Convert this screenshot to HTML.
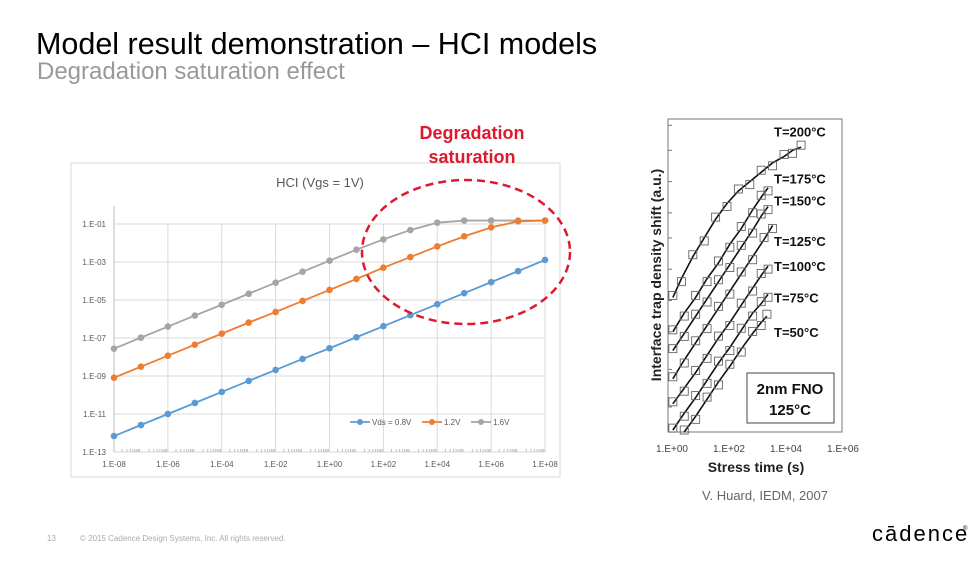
<!DOCTYPE html>
<html><head><meta charset="utf-8">
<style>
body{margin:0;width:977px;height:559px;background:#fff;overflow:hidden;font-family:"Liberation Sans",sans-serif;}
svg text{font-family:"Liberation Sans",sans-serif;}
</style></head>
<body>
<svg id="s" width="977" height="559" viewBox="0 0 977 559" xmlns="http://www.w3.org/2000/svg">
<text x="36" y="54" font-size="30.5" fill="#000">Model result demonstration – HCI models</text>
<text x="37" y="79" font-size="24" fill="#999">Degradation saturation effect</text>
<rect x="71" y="163" width="489" height="314" fill="#fff" stroke="#d9d9d9"/>
<text x="320" y="187" font-size="13" fill="#595959" text-anchor="middle">HCI (Vgs = 1V)</text>
<g id="L"></g>
<g id="R"></g>
<text x="472" y="139" font-size="18" font-weight="bold" fill="#e0182d" text-anchor="middle">Degradation</text>
<text x="472" y="163" font-size="18" font-weight="bold" fill="#e0182d" text-anchor="middle">saturation</text>
<ellipse cx="466" cy="252" rx="104" ry="72" fill="none" stroke="#e0182d" stroke-width="2.5" stroke-dasharray="8,5"/>
<text x="765" y="500" font-size="13" fill="#666" text-anchor="middle">V. Huard, IEDM, 2007</text>
<text x="47" y="541" font-size="8" fill="#aaa">13</text>
<text x="80" y="541" font-size="8" fill="#aaa">© 2015 Cadence Design Systems, Inc. All rights reserved.</text>
<text x="872" y="541" font-size="22" fill="#000" letter-spacing="2">cādence</text>
<text x="963" y="530" font-size="6" fill="#000">®</text>
</svg>
<script>
// ---- Left chart data ----
const lxTicks=[-8,-6,-4,-2,0,2,4,6,8];
const lxLabels=["1.E-08","1.E-06","1.E-04","1.E-02","1.E+00","1.E+02","1.E+04","1.E+06","1.E+08"];
const lyTicks=[-1,-3,-5,-7,-9,-11,-13];
const lyLabels=["1.E-01","1.E-03","1.E-05","1.E-07","1.E-09","1.E-11","1.E-13"];
const lxData=[-8,-7,-6,-5,-4,-3,-2,-1,0,1,2,3,4,5,6,7,8];
const vds08=[-12.16,-11.58,-11.0,-10.42,-9.84,-9.26,-8.68,-8.1,-7.54,-6.96,-6.38,-5.8,-5.22,-4.64,-4.06,-3.48,-2.89];
const vds12=[-9.09,-8.51,-7.93,-7.35,-6.77,-6.19,-5.63,-5.05,-4.47,-3.89,-3.30,-2.74,-2.18,-1.65,-1.18,-0.86,-0.82];
const vds16=[-7.56,-6.98,-6.40,-5.82,-5.25,-4.67,-4.09,-3.51,-2.93,-2.35,-1.81,-1.32,-0.93,-0.82,-0.82,-0.82,-0.82];
// ---- Right chart data ----
const rxTicks=[0,2,4,6];
const rxLabels=["1.E+00","1.E+02","1.E+04","1.E+06"];
const tLabels=["T=200°C","T=175°C","T=150°C","T=125°C","T=100°C","T=75°C","T=50°C"];
const t200x=[0.1,0.4,0.8,1.2,1.6,2.0,2.4,2.8,3.2,3.6,4.0,4.3,4.6];
const t200y=[43,49,56,62,68,73,77,80,83,86,88,90,91];
const t175x=[0.1,0.5,0.9,1.3,1.7,2.1,2.5,2.9,3.2,3.44];
const t175y=[32,38,43,49,54,60,65,71,75,78];
const t150x=[0.1,0.5,0.9,1.3,1.7,2.1,2.5,2.9,3.2,3.44];
const t150y=[26,31.5,37,42.5,48,53.5,59,64.5,69,72];
const t125x=[0.1,0.5,0.9,1.3,1.7,2.1,2.5,2.9,3.3,3.6];
const t125y=[17,23,28.5,34,39.5,45,50.5,56,61.5,66];
const t100x=[0.1,0.5,0.9,1.3,1.7,2.1,2.5,2.9,3.2,3.44];
const t100y=[9,14,19,24.5,30,35,40.5,46,50,53];
const t75x=[0.1,0.5,0.9,1.3,1.7,2.1,2.5,2.9,3.2,3.44];
const t75y=[0.6,6,11,16.5,22,27,32.5,38,41,44];
const t50x=[0.5,0.9,1.3,1.7,2.1,2.5,2.9,3.2,3.4];
const t50y=[0,5,10.5,16,21,26.5,31.5,35,37];
const tLabelY=[96,81,74,61,53,43,32];

const NS="http://www.w3.org/2000/svg";
function mk(p,tag,at){const e=document.createElementNS(NS,tag);for(const k in at)e.setAttribute(k,at[k]);p.appendChild(e);return e;}
const L=document.getElementById('L');
const lx=v=>114+(v+8)*26.94, ly=v=>452-(v+13)*19;
lyTicks.forEach((t,i)=>{
  const g=mk(L,'line',{x1:114,x2:545,y1:ly(t),y2:ly(t),stroke:'#d9d9d9'});
  
  
  const tx=mk(L,'text',{x:106,y:ly(t)+3,'font-size':8,fill:'#595959','text-anchor':'end'});
  tx.textContent=lyLabels[i];
  
  
});
lxTicks.forEach((t,i)=>{
  const g=mk(L,'line',{x1:lx(t),x2:lx(t),y1:224,y2:452,stroke:'#d9d9d9'});
  
  
  const tx=mk(L,'text',{x:lx(t),y:467,'font-size':8,fill:'#595959','text-anchor':'middle'});
  tx.textContent=lxLabels[i];
  
  
});
for(let d=-8;d<8;d++)for(let m=2;m<10;m++){const x=lx(d+Math.log10(m));const k=mk(L,'line',{x1:x,x2:x,y1:449,y2:452,stroke:'#bfbfbf'});
  
  }
const axL=mk(L,'line',{x1:114,x2:114,y1:206,y2:452,stroke:'#bfbfbf'});


const ser=[[vds16,'#a5a5a5','series-1.6v'],[vds12,'#ed7d31','series-1.2v'],[vds08,'#5b9bd5','series-0.8v']];
ser.forEach(([d,c,n])=>{
  const pl=mk(L,'polyline',{points:d.map((v,i)=>lx(lxData[i])+','+ly(v)).join(' '),fill:'none',stroke:c,'stroke-width':1.8});
  
  
  d.forEach((v,i)=>{const c2=mk(L,'circle',{cx:lx(lxData[i]),cy:ly(v),r:3.3,fill:c});
    
    });
});
const leg=[["Vds = 0.8V",'#5b9bd5',350],["1.2V",'#ed7d31',422],["1.6V",'#a5a5a5',471]];
leg.forEach(([t,c,x])=>{
  const g=mk(L,'g',{});
  
  
  mk(g,'line',{x1:x,x2:x+20,y1:422,y2:422,stroke:c,'stroke-width':1.8});
  mk(g,'circle',{cx:x+10,cy:422,r:3,fill:c});
  const tx=mk(g,'text',{x:x+22,y:425,'font-size':8,fill:'#595959'});tx.textContent=t;
});
// Right chart
const R=document.getElementById('R');
const rx=v=>670+v*28.5, ry=v=>432-v*3.13;
const fr=mk(R,'rect',{x:668,y:119,width:174,height:313,fill:'none',stroke:'#777'});


[8,20,32,42,52,62,70,80,90,98].forEach(v=>{const t=mk(R,'line',{x1:668,x2:672,y1:ry(v),y2:ry(v),stroke:'#777'});
  
  });
rxTicks.forEach((t,i)=>{const tx=mk(R,'text',{x:rx(t)+2,y:452,'font-size':10,fill:'#444','text-anchor':'middle'});tx.textContent=rxLabels[i];
  
  });
const xt=mk(R,'text',{x:756,y:472,'font-size':14,'font-weight':'bold',fill:'#222','text-anchor':'middle'});xt.textContent='Stress time (s)';


const yt=mk(R,'text',{x:0,y:0,'font-size':14,'font-weight':'bold',fill:'#222','text-anchor':'middle',transform:'translate(661,275) rotate(-90)'});yt.textContent='Interface trap density shift (a.u.)';


const rs=[[t200x,t200y],[t175x,t175y],[t150x,t150y],[t125x,t125y],[t100x,t100y],[t75x,t75y],[t50x,t50y]];
rs.forEach(([xs,ys],k)=>{
  const pl=mk(R,'polyline',{points:xs.map((v,i)=>rx(v)+','+ry(ys[i])).join(' '),fill:'none',stroke:'#111','stroke-width':1.6});
  
  
  xs.forEach((v,i)=>{const q=mk(R,'rect',{x:rx(v)-4,y:ry(ys[i])-4+(i%2?3:-2),width:8,height:8,fill:'none',stroke:'#666','stroke-width':0.9});
    
    });
  const tx=mk(R,'text',{x:774,y:ry(tLabelY[k])+5,'font-size':13,'font-weight':'bold',fill:'#111'});tx.textContent=tLabels[k];
  
  
});
const bx=mk(R,'rect',{x:747,y:373,width:87,height:50,fill:'#fff',stroke:'#444'});


const b1=mk(R,'text',{x:790,y:394,'font-size':15,'font-weight':'bold',fill:'#111','text-anchor':'middle'});b1.textContent='2nm FNO';


const b2=mk(R,'text',{x:790,y:415,'font-size':15,'font-weight':'bold',fill:'#111','text-anchor':'middle'});b2.textContent='125°C';


</script>
</body></html>
